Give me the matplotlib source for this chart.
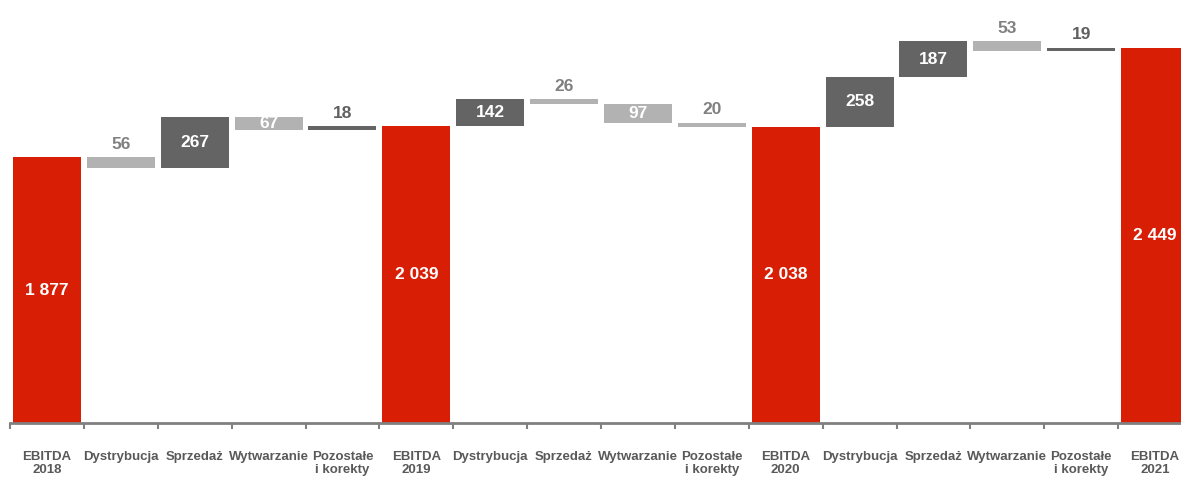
import numpy as np
import matplotlib.pyplot as plt

plt.rcParams['font.family'] = ['Liberation Sans Narrow', 'Liberation Sans', 'DejaVu Sans']
plt.rcParams['font.weight'] = 'bold'

categories = ['EBITDA\n2018', 'Dystrybucja', 'Sprzedaż', 'Wytwarzanie', 'Pozostałe\ni korekty',
              'EBITDA\n2019', 'Dystrybucja', 'Sprzedaż', 'Wytwarzanie', 'Pozostałe\ni korekty',
              'EBITDA\n2020', 'Dystrybucja', 'Sprzedaż', 'Wytwarzanie', 'Pozostałe\ni korekty',
              'EBITDA\n2021']
totals = [1877, 2039, 2038, 2449]
changes_2019 = [-56, 267, -67, 18]
changes_2020 = [142, -26, -97, -20]
changes_2021 = [258, 187, -53, 19]

red = '#d81e05'
dark = '#646464'
light = '#b2b2b2'
ymin, ymax = 494, 2697

fig = plt.figure(figsize=(11.81, 4.80), dpi=100)
ax = fig.add_axes([10/1181, 57/480, 1182/1181, 423/480])

def fmt(v):
    return '{:,}'.format(v).replace(',', ' ')

steps = []
for i, ch in enumerate([changes_2019, changes_2020, changes_2021]):
    steps.append(('total', totals[i]))
    for c in ch:
        steps.append(('change', c))
steps.append(('total', totals[-1]))

level = 0
for x, (kind, v) in enumerate(steps):
    if kind == 'total':
        ax.bar(x, v - ymin, bottom=ymin, width=0.92, color=red)
        ax.text(x, (ymin + v) / 2, fmt(v), ha='center', va='center', color='white', fontsize=12.5)
        level = v
    else:
        lo, hi = min(level, level + v), max(level, level + v)
        ax.bar(x, hi - lo, bottom=lo, width=0.92, color=dark if v > 0 else light)
        if abs(v) >= 60:
            ax.text(x, (lo + hi) / 2, fmt(abs(v)), ha='center', va='center', color='white', fontsize=12.5)
        else:
            ax.annotate(fmt(abs(v)), (x, hi), xytext=(0, 4), textcoords='offset points',
                        ha='center', va='bottom', fontsize=12.5,
                        color='#808080' if v < 0 else '#606060')
        level += v

ax.set_xlim(-0.5, len(steps) - 0.5)
ax.set_ylim(ymin, ymax)
for s in ['top', 'right', 'left']:
    ax.spines[s].set_visible(False)
ax.spines['bottom'].set_color('#808080')
ax.spines['bottom'].set_linewidth(2)
ax.set_yticks([])
ax.set_xticks(np.arange(len(steps) + 1) - 0.5)
ax.set_xticklabels([])
ax.tick_params(axis='x', which='major', length=4, width=1.5, color='#808080')
ax.set_xticks(np.arange(len(steps)), minor=True)
ax.set_xticklabels(categories, minor=True, fontsize=9.5, color='#595959', linespacing=1.15)
ax.tick_params(axis='x', which='minor', length=0, pad=20)

fig.savefig('out.png', dpi=100)
